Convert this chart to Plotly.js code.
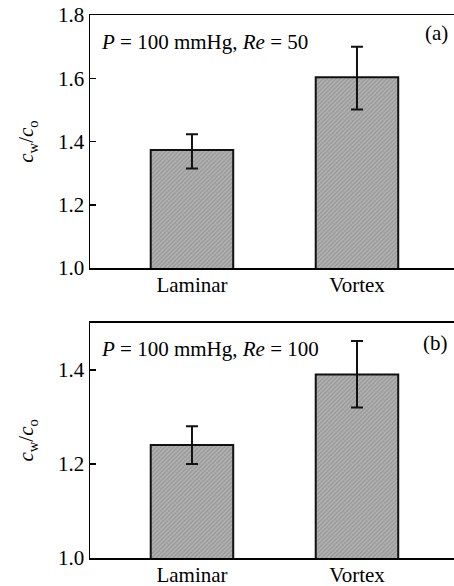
<!DOCTYPE html>
<html>
<head>
<meta charset="utf-8">
<script src="https://cdn.plot.ly/plotly-3.0.1.min.js"></script>
<style>html,body{margin:0;padding:0;background:#fff;}#chart{width:454px;height:586px;}</style>
</head>
<body>
<div id="chart"></div>
<script>
const categories = ["Laminar", "Vortex"];
const valuesA = [1.373, 1.603];
const errPlusA = [0.05, 0.097];
const errMinusA = [0.058, 0.102];
const valuesB = [1.24, 1.39];
const errPlusB = [0.04, 0.071];
const errMinusB = [0.04, 0.07];
const yTicksA = [1.0, 1.2, 1.4, 1.6, 1.8];
const yTicksB = [1.0, 1.2, 1.4];

const font = {family: "'Liberation Serif', 'Times New Roman', serif", size: 21, color: "#000"};
const barMarker = {
  color: "#a9a9a9",
  line: {color: "#111", width: 2},
  pattern: {shape: "/", fgcolor: "#949494", bgcolor: "#b2b2b2", size: 3, solidity: 0.4}
};
function barTrace(vals, ep, em, xa, ya) {
  return {
    type: "bar", x: categories, y: vals, base: 0, width: 0.5,
    xaxis: xa, yaxis: ya, marker: barMarker,
    error_y: {type: "data", array: ep, arrayminus: em, symmetric: false, color: "#111", thickness: 2, width: 6},
    hoverinfo: "none", showlegend: false
  };
}
const data = [
  barTrace(valuesA, errPlusA, errMinusA, "x", "y"),
  barTrace(valuesB, errPlusB, errMinusB, "x2", "y2")
];
const xCommon = {
  type: "category", range: [-0.618, 1.588], showline: true, linecolor: "#000", linewidth: 1.5,
  mirror: true, ticks: "", showgrid: false, zeroline: false, tickfont: font, fixedrange: true,
  ticklabelstandoff: -3
};
const yCommon = {
  showline: true, linecolor: "#000", linewidth: 1.5, mirror: false, ticks: "inside", ticklen: 6,
  tickcolor: "#000", tickwidth: 1.5, showgrid: false, zeroline: false, tickfont: font,
  tickformat: ".1f", title: {text: "<i>c</i><sub>w</sub>/<i>c</i><sub>o</sub>", font: font, standoff: 18}
};
const layout = {
  width: 454, height: 586,
  margin: {l: 90, r: 0, t: 15, b: 28},
  paper_bgcolor: "#fff", plot_bgcolor: "#fff",
  font: font,
  xaxis: Object.assign({}, xCommon, {domain: [0, 1], anchor: "y"}),
  yaxis: Object.assign({}, yCommon, {domain: [0.534, 1], range: [1.0, 1.8], tickvals: yTicksA, anchor: "x"}),
  xaxis2: Object.assign({}, xCommon, {domain: [0, 1], anchor: "y2"}),
  yaxis2: Object.assign({}, yCommon, {domain: [0, 0.4333], range: [1.0, 1.5], tickvals: yTicksB, anchor: "x2"}),
  annotations: [
    {xref: "x domain", yref: "y domain", x: 0.025, y: 0.895, xanchor: "left", yanchor: "middle", showarrow: false,
     text: "<i>P</i> = 100 mmHg, <i>Re</i> = 50", font: font},
    {xref: "x domain", yref: "y domain", x: 0.99, y: 0.928, xanchor: "right", yanchor: "middle", showarrow: false,
     text: "(a)", font: font},
    {xref: "x2 domain", yref: "y2 domain", x: 0.025, y: 0.89, xanchor: "left", yanchor: "middle", showarrow: false,
     text: "<i>P</i> = 100 mmHg, <i>Re</i> = 100", font: font},
    {xref: "x2 domain", yref: "y2 domain", x: 0.99, y: 0.915, xanchor: "right", yanchor: "middle", showarrow: false,
     text: "(b)", font: font}
  ]
};
Plotly.newPlot("chart", data, layout, {displayModeBar: false, staticPlot: true});
</script>
</body>
</html>
